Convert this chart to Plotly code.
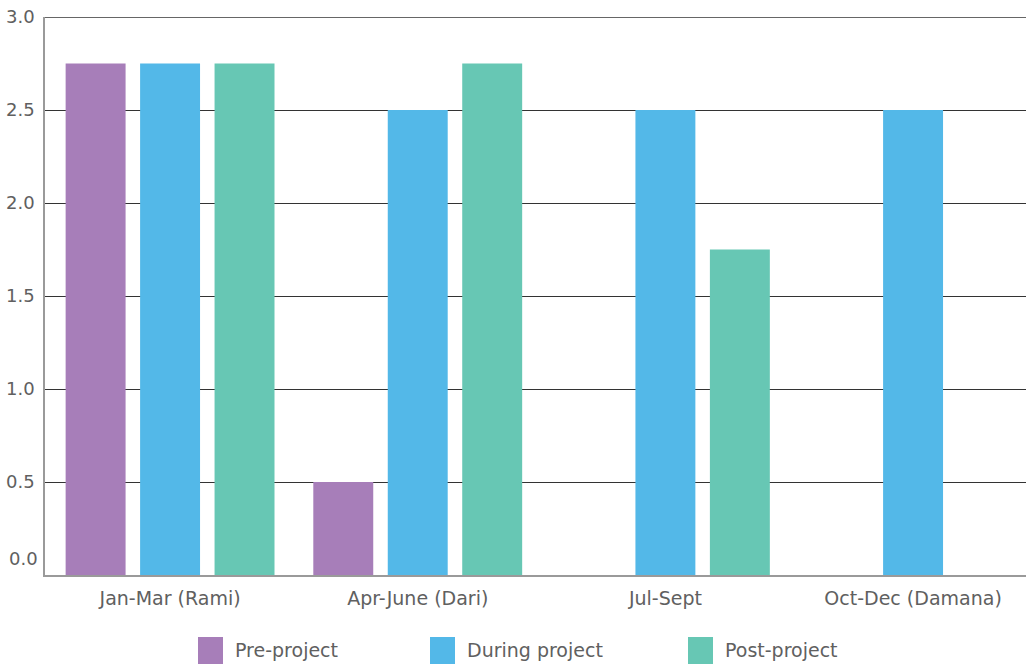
import plotly.graph_objects as go

categories = ["Jan-Mar (Rami)", "Apr-June (Dari)", "Jul-Sept", "Oct-Dec (Damana)"]
series_names = ["Pre-project", "During project", "Post-project"]
pre_project = [2.75, 0.5, 0, 0]
during_project = [2.75, 2.5, 2.5, 2.5]
post_project = [2.75, 2.75, 1.75, 0]
y_tick_vals = [0.5, 1.0, 1.5, 2.0, 2.5, 3.0]
y_tick_text = ["0.5", "1.0", "1.5", "2.0", "2.5", "3.0"]

colors = ["#A77EB9", "#53B8E8", "#67C7B4"]
FONT = "DejaVu Sans"
TXT = "#606060"
FS = 19
FSY = 18

W, H = 1026, 664
L, R, T, B = 45, 0, 17, 89
PW, PH = W - L - R, H - T - B


def px_x(x):
    return (x - L) / PW


def px_y(y):
    return (H - B - y) / PH


fig = go.Figure()
for name, vals, c in zip(series_names, [pre_project, during_project, post_project], colors):
    fig.add_trace(go.Bar(x=categories, y=vals, name=name, marker=dict(color=c, line=dict(width=0)),
                         showlegend=False))

fig.update_layout(
    width=W, height=H,
    margin=dict(l=L, r=R, t=T, b=B, pad=0),
    paper_bgcolor="white", plot_bgcolor="white",
    barmode="group", bargap=0.098, bargroupgap=0.195,
    font=dict(family=FONT, size=FS, color=TXT),
    xaxis=dict(range=[-0.505, 3.456], showline=True, linecolor="#9a9a9a", linewidth=2,
               ticks="", showgrid=False, tickfont=dict(size=FS, color=TXT), ticklabelstandoff=5),
    yaxis=dict(range=[0, 3], tickvals=y_tick_vals, ticktext=y_tick_text, showgrid=True,
               gridcolor="#333333", gridwidth=1, zeroline=False, showline=True,
               linecolor="#9a9a9a", linewidth=1.5, ticks="", tickfont=dict(size=FSY, color=TXT),
               ticklabelstandoff=5),
)

# top gridline at the 3.0 edge
fig.add_shape(type="line", xref="paper", yref="y", x0=0, x1=1, y0=3, y1=3,
              line=dict(color="#333333", width=1.5), layer="above")

# 0.0 label (drawn slightly above the baseline as in the reference)
fig.add_annotation(x=px_x(40), y=px_y(558), xref="paper", yref="paper", text="0.0",
                   showarrow=False, xanchor="right", yanchor="middle",
                   font=dict(size=FSY, color=TXT, family=FONT))

# manual legend
sq_x = [198, 430, 688]
for name, c, sx in zip(series_names, colors, sq_x):
    fig.add_shape(type="rect", xref="paper", yref="paper",
                  x0=px_x(sx), x1=px_x(sx + 25), y0=px_y(637), y1=px_y(664),
                  fillcolor=c, line=dict(width=0))
    fig.add_annotation(x=px_x(sx + 35), y=px_y(650), xref="paper", yref="paper", text=name,
                       showarrow=False, xanchor="left", yanchor="middle",
                       font=dict(size=FS, color=TXT, family=FONT))

fig.write_html("out.html")
